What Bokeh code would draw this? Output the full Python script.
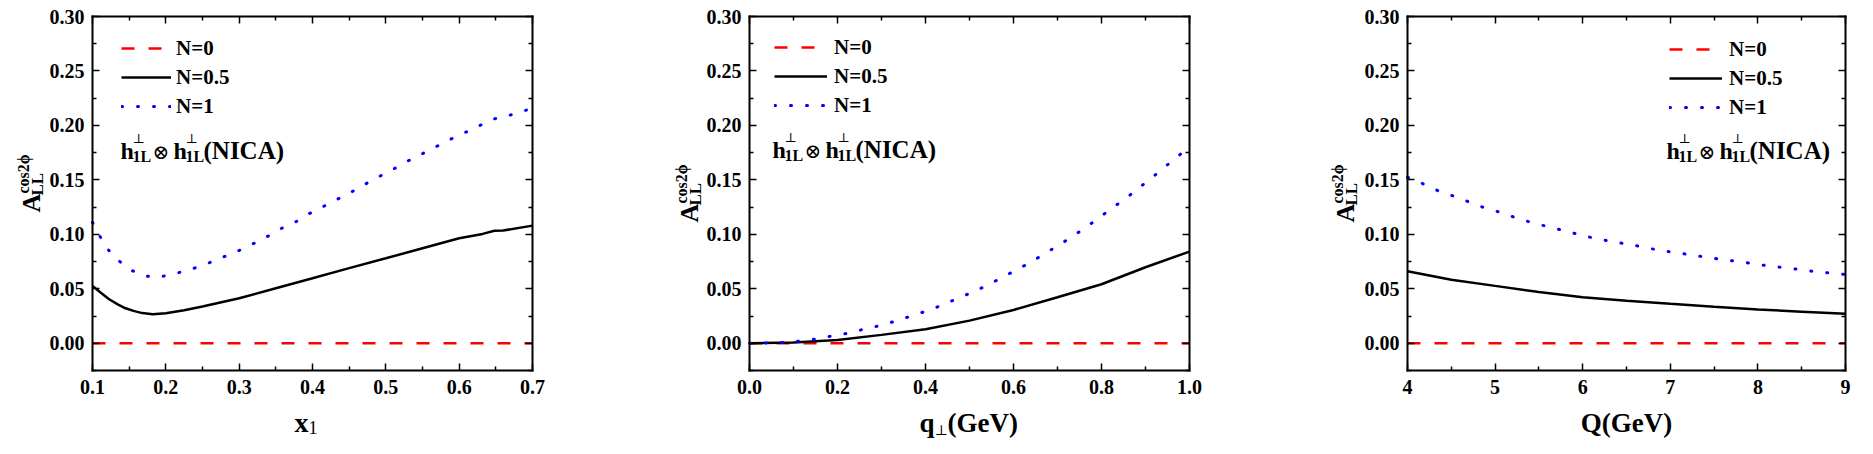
import math
from bokeh.plotting import figure
from bokeh.models import (Range1d, LinearAxis, FixedTicker, NumeralTickFormatter,
                          Label, Legend, LegendItem)
from bokeh.layouts import row
from bokeh.embed import file_html
from bokeh.resources import INLINE

SERIF = "Liberation Serif"

# ---------------- data ----------------
# Panel 1: A_LL^{cos2phi} vs x1
x1_n0 = [0.10, 0.70]
y1_n0 = [0.0, 0.0]
x1_n05 = [0.10, 0.11, 0.1227, 0.135, 0.145, 0.157, 0.168, 0.182, 0.20, 0.225, 0.25, 0.30,
          0.35, 0.40, 0.45, 0.50, 0.55, 0.60, 0.632, 0.648, 0.66, 0.70]
y1_n05 = [0.0527, 0.0470, 0.0404, 0.0355, 0.0321, 0.0295, 0.0277, 0.0267, 0.0275, 0.0303,
          0.0337, 0.0413, 0.0505, 0.0597, 0.0690, 0.0780, 0.0872, 0.0964, 0.1004, 0.1033,
          0.1035, 0.1080]
x1_n1 = [0.10, 0.109, 0.120, 0.133, 0.150, 0.169, 0.189, 0.209, 0.229, 0.248, 0.267, 0.285,
         0.305, 0.323, 0.341, 0.358, 0.376, 0.394, 0.412, 0.430, 0.448, 0.466, 0.484, 0.502,
         0.519, 0.537, 0.555, 0.574, 0.592, 0.611, 0.629, 0.648, 0.666, 0.686, 0.700]
y1_n1 = [0.1110, 0.0995, 0.0870, 0.0774, 0.0680, 0.0620, 0.0606, 0.0634, 0.0667, 0.0710,
         0.0759, 0.0811, 0.0866, 0.0927, 0.0989, 0.1056, 0.1110, 0.1185, 0.1246, 0.1310,
         0.1368, 0.1439, 0.1506, 0.1570, 0.1630, 0.1700, 0.1757, 0.1824, 0.1886, 0.1944,
         0.2002, 0.2060, 0.2087, 0.2130, 0.2155]

# Panel 2: vs q_perp (GeV)
x2_n0 = [0.0, 1.0]
y2_n0 = [0.0, 0.0]
x2_n05 = [0.0, 0.1, 0.2, 0.3, 0.4, 0.5, 0.6, 0.7, 0.8, 0.9, 1.0]
y2_n05 = [0.0, 0.0008, 0.0030, 0.0077, 0.0129, 0.0208, 0.0306, 0.0422, 0.0542, 0.0698, 0.0842]
x2_n1 = [0.0, 0.039, 0.077, 0.114, 0.152, 0.188, 0.224, 0.260, 0.297, 0.333, 0.368, 0.403,
         0.439, 0.473, 0.507, 0.542, 0.575, 0.608, 0.641, 0.672, 0.704, 0.736, 0.767, 0.796,
         0.826, 0.857, 0.885, 0.914, 0.943, 0.973, 1.0]
y2_n1 = [0.0, 0.0002, 0.0008, 0.0020, 0.0040, 0.0067, 0.0092, 0.0129, 0.0162, 0.0205, 0.0251,
         0.0297, 0.0352, 0.0413, 0.0468, 0.0536, 0.0606, 0.0677, 0.0748, 0.0826, 0.0903,
         0.0986, 0.1071, 0.1157, 0.1246, 0.1335, 0.1427, 0.1518, 0.1616, 0.1714, 0.1806]

# Panel 3: vs Q (GeV)
x3_n0 = [4.0, 9.0]
y3_n0 = [0.0, 0.0]
x3_n05 = [4.0, 4.5, 5.0, 5.5, 6.0, 6.5, 7.0, 7.5, 8.0, 8.5, 9.0]
y3_n05 = [0.0661, 0.0584, 0.0527, 0.0471, 0.0422, 0.0390, 0.0362, 0.0335, 0.0311, 0.0290, 0.0270]
x3_n1 = [4.0, 4.19, 4.36, 4.54, 4.71, 4.89, 5.07, 5.25, 5.42, 5.60, 5.78, 5.97, 6.15, 6.33,
         6.52, 6.70, 6.89, 7.07, 7.26, 7.44, 7.63, 7.81, 7.99, 8.18, 8.37, 8.55, 8.73, 8.93, 9.0]
y3_n1 = [0.1524, 0.1460, 0.1396, 0.1347, 0.1295, 0.1240, 0.1200, 0.1148, 0.1108, 0.1071,
         0.1035, 0.0995, 0.0961, 0.0934, 0.0909, 0.0882, 0.0851, 0.0833, 0.0808, 0.0787,
         0.0765, 0.0747, 0.0725, 0.0704, 0.0689, 0.0667, 0.0652, 0.0637, 0.0632]

legend_labels = ["N=0", "N=0.5", "N=1"]
y_lim = (-0.025, 0.30)
y_ticks = [0.0, 0.05, 0.10, 0.15, 0.20, 0.25, 0.30]
y_minor = [-0.025, 0.025, 0.075, 0.125, 0.175, 0.225, 0.275]
x1_lim = (0.1, 0.7)
x1_ticks = [0.1, 0.2, 0.3, 0.4, 0.5, 0.6, 0.7]
x1_minor = [0.15, 0.25, 0.35, 0.45, 0.55, 0.65]
x2_lim = (0.0, 1.0)
x2_ticks = [0.0, 0.2, 0.4, 0.6, 0.8, 1.0]
x2_minor = [0.1, 0.3, 0.5, 0.7, 0.9]
x3_lim = (4.0, 9.0)
x3_ticks = [4, 5, 6, 7, 8, 9]
x3_minor = [4.5, 5.5, 6.5, 7.5, 8.5]

# ---------------- page geometry (px on the page) ----------------
FIG_TOP, FIG_H = 8, 438
DATA_TOP, DATA_BOTTOM = 24, 378


def style_axis(ax, ticks, minor, fmt, show_labels, loc, bounds):
    ax.fixed_location = loc
    ax.bounds = bounds
    ax.ticker = FixedTicker(ticks=ticks, minor_ticks=minor)
    ax.formatter = NumeralTickFormatter(format=fmt)
    ax.axis_line_width = 2
    ax.axis_line_color = "black"
    ax.axis_line_cap = "square"
    ax.major_tick_in = 7
    ax.major_tick_out = 0
    ax.minor_tick_in = 4
    ax.minor_tick_out = 0
    ax.major_tick_line_width = 1.5
    ax.minor_tick_line_width = 1.5
    ax.major_tick_line_color = "black"
    ax.minor_tick_line_color = "black"
    ax.major_label_text_font = SERIF
    ax.major_label_text_font_style = "bold"
    ax.major_label_text_font_size = "20px"
    ax.major_label_text_color = "black" if show_labels else None


class Panel:
    def __init__(self, fig_left, fig_w, data_left, data_right, xlim, xt, xm, xfmt):
        self.fl, self.fw = fig_left, fig_w
        sx = (xlim[1] - xlim[0]) / (data_right - data_left)
        x0 = xlim[0] - (data_left - fig_left) * sx
        sy = (y_lim[1] - y_lim[0]) / (DATA_BOTTOM - DATA_TOP)
        y0 = y_lim[0] - (FIG_TOP + FIG_H - DATA_BOTTOM) * sy
        p = figure(width=fig_w, height=FIG_H, x_range=Range1d(x0, x0 + fig_w * sx),
                   y_range=Range1d(y0, y0 + FIG_H * sy), output_backend="svg",
                   toolbar_location=None, min_border=0, min_border_left=0,
                   min_border_right=0, min_border_top=0, min_border_bottom=0)
        p.xgrid.visible = False
        p.ygrid.visible = False
        p.outline_line_color = None
        p.background_fill_color = "white"
        p.border_fill_color = "white"
        p.add_layout(LinearAxis(), "above")
        p.add_layout(LinearAxis(), "right")
        style_axis(p.below[0], xt, xm, xfmt, True, y_lim[0], xlim)
        style_axis(p.above[0], xt, xm, xfmt, False, y_lim[1], xlim)
        style_axis(p.left[0], y_ticks, y_minor, "0.00", True, xlim[0], y_lim)
        style_axis(p.right[0], y_ticks, y_minor, "0.00", False, xlim[1], y_lim)
        p.below[0].major_label_standoff = 9
        p.left[0].major_label_standoff = 8
        self.p = p

    def lab(self, ax, ay, text, size, bold=True, angle=0.0, align="left", font=SERIF):
        # ax, ay: page position of the text anchor (baseline)
        self.p.add_layout(Label(x=ax - self.fl, y=FIG_TOP + FIG_H - ay, x_units="screen",
                                y_units="screen", text=text, text_font=font,
                                text_font_size=f"{size}px",
                                text_font_style="bold" if bold else "normal", angle=angle,
                                text_align=align, text_baseline="alphabetic",
                                text_color="black"))

    def curves(self, series, gx, gbottom, gw, ls):
        p = self.p
        (xa, ya), (xb, yb), (xc, yc) = series
        r0 = p.line(xa, ya, line_color="#ff0000", line_width=2.5, line_dash="13 14")
        r1 = p.line(xb, yb, line_color="black", line_width=2.5)
        r2 = p.line(xc, yc, line_color="#0000ff", line_width=3, line_dash="1 15",
                    line_cap="round")
        legend = Legend(items=[LegendItem(label=legend_labels[0], renderers=[r0]),
                               LegendItem(label=legend_labels[1], renderers=[r1]),
                               LegendItem(label=legend_labels[2], renderers=[r2])],
                        location=(gx - self.fl, FIG_TOP + FIG_H - gbottom),
                        glyph_width=gw, glyph_height=20, label_standoff=ls,
                        spacing=4, padding=0, margin=0, border_line_color=None,
                        background_fill_alpha=0, label_text_font=SERIF,
                        label_text_font_style="bold", label_text_font_size="21px",
                        label_text_color="black")
        p.add_layout(legend)

    def formula(self, fx, fy):
        self.lab(fx, fy, "h", 24)
        self.lab(fx + 12, fy - 12, "⊥", 13, bold=False, font="DejaVu Serif")
        self.lab(fx + 12, fy + 6, "1L", 16)
        self.lab(fx + 32, fy + 1, "⊗", 20, bold=False, font="DejaVu Serif")
        self.lab(fx + 53, fy, "h", 24)
        self.lab(fx + 65, fy - 12, "⊥", 13, bold=False, font="DejaVu Serif")
        self.lab(fx + 65, fy + 6, "1L", 16)
        self.lab(fx + 83, fy, "(NICA)", 25)

    def ylabel(self, bx, by):
        # bx: baseline x of "A", by: page y where "A" starts (bottom)
        self.lab(bx, by, "A", 26, angle=math.pi / 2)
        self.lab(bx + 6, by - 17, "LL", 17, angle=math.pi / 2)
        self.lab(bx - 8, by - 19, "cos2ϕ", 16, angle=math.pi / 2)


P1 = Panel(8, 657, 100, 540, x1_lim, x1_ticks, x1_minor, "0.0")
P1.curves([(x1_n0, y1_n0), (x1_n05, y1_n05), (x1_n1, y1_n1)], 129, 126.75, 50, 5)
P1.formula(128, 158)
P1.ylabel(39, 220)
P1.lab(302, 430, "x", 28)
P1.lab(316, 435, "1", 18, bold=False)

P2 = Panel(665, 657, 757, 1197, x2_lim, x2_ticks, x2_minor, "0.0")
P2.curves([(x2_n0, y2_n0), (x2_n05, y2_n05), (x2_n1, y2_n1)], 782, 125.75, 53, 7)
P2.formula(780, 157)
P2.ylabel(697, 230)
P2.lab(927, 430, "q", 27)
P2.lab(942, 437, "⊥", 14, bold=False, font="DejaVu Serif")
P2.lab(955, 430, "(GeV)", 27)

P3 = Panel(1322, 543, 1415, 1853, x3_lim, x3_ticks, x3_minor, "0")
P3.curves([(x3_n0, y3_n0), (x3_n05, y3_n05), (x3_n1, y3_n1)], 1677, 127.75, 53, 7)
P3.formula(1674, 158)
P3.ylabel(1353, 230)
P3.lab(1634, 430, "Q(GeV)", 27, align="center")

layout = row(P1.p, P2.p, P3.p, spacing=0)
open("out.html", "w").write(file_html(layout, INLINE))
